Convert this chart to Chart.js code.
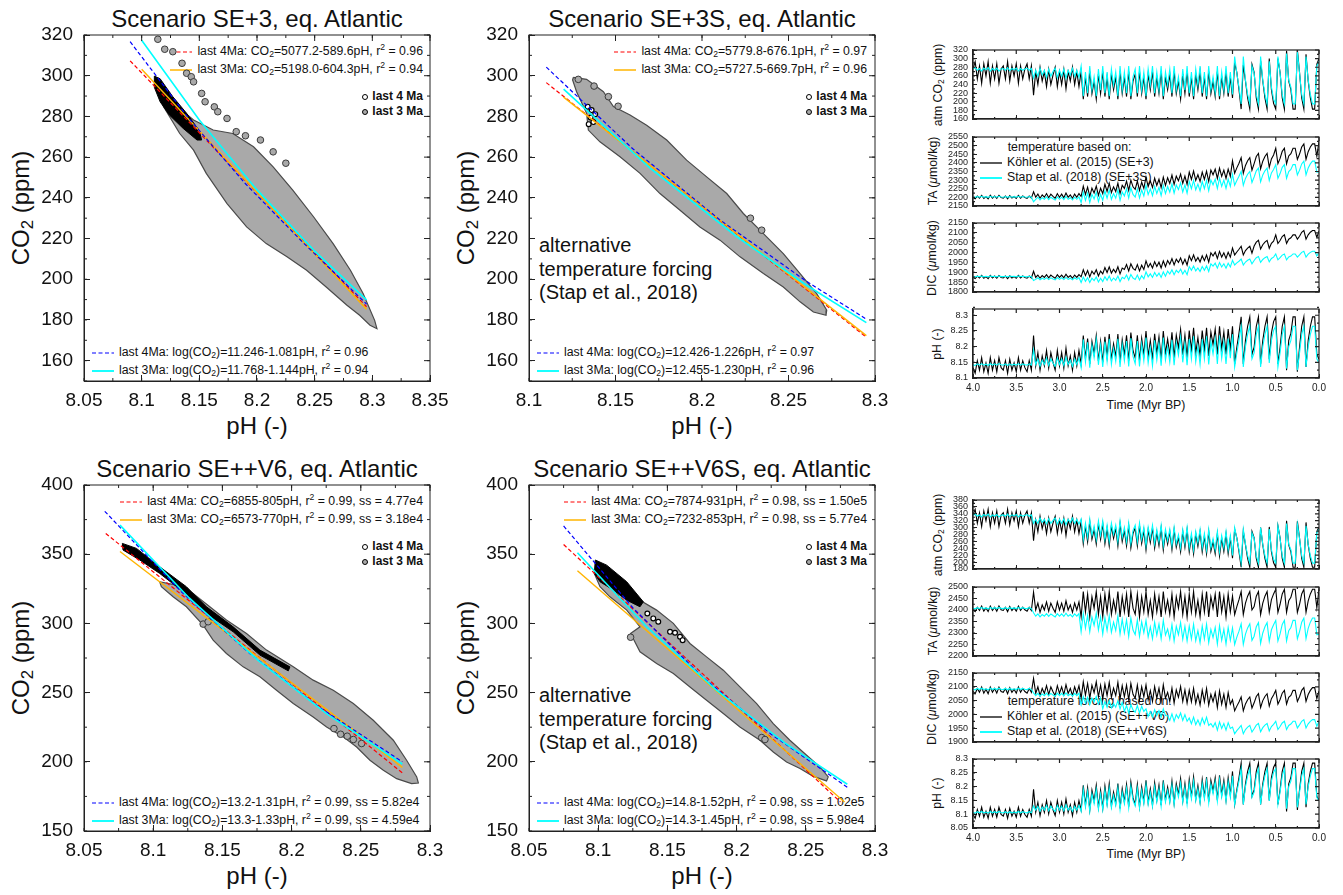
<!DOCTYPE html>
<html>
<head>
<meta charset="utf-8">
<title>CO2 vs pH, eq. Atlantic</title>
<script src="https://cdn.jsdelivr.net/npm/chart.js@4.4.1/dist/chart.umd.min.js"></script>
<style>
  body { margin: 0; background: #fff; }
  #fig { position: relative; width: 1343px; height: 895px; overflow: hidden;
         font-family: "Liberation Sans", Arial, sans-serif; color: #111; }
  #fig canvas { position: absolute; }
  .lbl { position: absolute; white-space: nowrap; }
  .title { font-size: 24px; line-height: 28px; width: 400px; text-align: center; }
  .axt { font-size: 24px; line-height: 28px; width: 300px; text-align: center; }
  .rot { transform: rotate(-90deg); }
  .leg { font-size: 12.3px; line-height: 18px; }
  .legp { font-size: 12px; line-height: 15px; font-weight: bold; }
  .alt { font-size: 20px; line-height: 23.5px; }
  .tleg { font-size: 12.3px; line-height: 15px; }
  .tax { font-size: 12.3px; line-height: 16px; width: 200px; text-align: center; }
  sub { font-size: .7em; vertical-align: -.25em; line-height: 0; }
  sup { font-size: .7em; vertical-align: .55em; line-height: 0; }
  .ls { display: inline-block; width: 22px; height: 6px; margin-right: 5px; vertical-align: middle; }
  .pm { display: inline-block; width: 4px; height: 4px; border: 1.3px solid #000; border-radius: 50%;
        margin-right: 4px; vertical-align: middle; }
</style>
</head>
<body>
<div id="fig">
  <!-- titles -->
  <div class="lbl title" style="left:57px;top:5px">Scenario SE+3, eq. Atlantic</div>
  <div class="lbl title" style="left:502px;top:5px">Scenario SE+3S, eq. Atlantic</div>
  <div class="lbl title" style="left:57px;top:455px">Scenario SE++V6, eq. Atlantic</div>
  <div class="lbl title" style="left:502px;top:455px">Scenario SE++V6S, eq. Atlantic</div>

  <!-- axis titles of the scatter panels -->
  <div class="lbl axt" style="left:107px;top:412px">pH (-)</div>
  <div class="lbl axt" style="left:552px;top:412px">pH (-)</div>
  <div class="lbl axt" style="left:107px;top:862px">pH (-)</div>
  <div class="lbl axt" style="left:552px;top:862px">pH (-)</div>
  <div class="lbl axt rot" style="left:-129px;top:194px">CO<sub>2</sub> (ppm)</div>
  <div class="lbl axt rot" style="left:316px;top:194px">CO<sub>2</sub> (ppm)</div>
  <div class="lbl axt rot" style="left:-129px;top:644px">CO<sub>2</sub> (ppm)</div>
  <div class="lbl axt rot" style="left:316px;top:644px">CO<sub>2</sub> (ppm)</div>

  <!-- SE+3 legends -->
  <div class="lbl leg" style="right:920px;top:42px;text-align:right">
    <div><i class="ls dr"></i>last 4Ma: CO<sub>2</sub>=5077.2-589.6pH, r<sup>2</sup> = 0.96</div>
    <div><i class="ls so"></i>last 3Ma: CO<sub>2</sub>=5198.0-604.3pH, r<sup>2</sup> = 0.94</div>
  </div>
  <div class="lbl legp" style="right:920px;top:89px;text-align:right">
    <div><i class="pm" style="background:#fff"></i>last 4 Ma</div>
    <div><i class="pm" style="background:#a9a9a9"></i>last 3 Ma</div>
  </div>
  <div class="lbl leg" style="left:92px;top:343px">
    <div><i class="ls db"></i>last 4Ma: log(CO<sub>2</sub>)=11.246-1.081pH, r<sup>2</sup> = 0.96</div>
    <div><i class="ls sc"></i>last 3Ma: log(CO<sub>2</sub>)=11.768-1.144pH, r<sup>2</sup> = 0.94</div>
  </div>

  <!-- SE+3S legends -->
  <div class="lbl leg" style="right:476px;top:42px;text-align:right">
    <div><i class="ls dr"></i>last 4Ma: CO<sub>2</sub>=5779.8-676.1pH, r<sup>2</sup> = 0.97</div>
    <div><i class="ls so"></i>last 3Ma: CO<sub>2</sub>=5727.5-669.7pH, r<sup>2</sup> = 0.96</div>
  </div>
  <div class="lbl legp" style="right:476px;top:89px;text-align:right">
    <div><i class="pm" style="background:#fff"></i>last 4 Ma</div>
    <div><i class="pm" style="background:#a9a9a9"></i>last 3 Ma</div>
  </div>
  <div class="lbl leg" style="left:537px;top:343px">
    <div><i class="ls db"></i>last 4Ma: log(CO<sub>2</sub>)=12.426-1.226pH, r<sup>2</sup> = 0.97</div>
    <div><i class="ls sc"></i>last 3Ma: log(CO<sub>2</sub>)=12.455-1.230pH, r<sup>2</sup> = 0.96</div>
  </div>
  <div class="lbl alt" style="left:539px;top:234px">alternative<br>temperature forcing<br>(Stap et al., 2018)</div>

  <!-- SE++V6 legends -->
  <div class="lbl leg" style="right:920px;top:492px;text-align:right">
    <div><i class="ls dr"></i>last 4Ma: CO<sub>2</sub>=6855-805pH, r<sup>2</sup> = 0.99, ss = 4.77e4</div>
    <div><i class="ls so"></i>last 3Ma: CO<sub>2</sub>=6573-770pH, r<sup>2</sup> = 0.99, ss = 3.18e4</div>
  </div>
  <div class="lbl legp" style="right:920px;top:539px;text-align:right">
    <div><i class="pm" style="background:#fff"></i>last 4 Ma</div>
    <div><i class="pm" style="background:#a9a9a9"></i>last 3 Ma</div>
  </div>
  <div class="lbl leg" style="left:92px;top:793px">
    <div><i class="ls db"></i>last 4Ma: log(CO<sub>2</sub>)=13.2-1.31pH, r<sup>2</sup> = 0.99, ss = 5.82e4</div>
    <div><i class="ls sc"></i>last 3Ma: log(CO<sub>2</sub>)=13.3-1.33pH, r<sup>2</sup> = 0.99, ss = 4.59e4</div>
  </div>

  <!-- SE++V6S legends -->
  <div class="lbl leg" style="right:476px;top:492px;text-align:right">
    <div><i class="ls dr"></i>last 4Ma: CO<sub>2</sub>=7874-931pH, r<sup>2</sup> = 0.98, ss = 1.50e5</div>
    <div><i class="ls so"></i>last 3Ma: CO<sub>2</sub>=7232-853pH, r<sup>2</sup> = 0.98, ss = 5.77e4</div>
  </div>
  <div class="lbl legp" style="right:476px;top:539px;text-align:right">
    <div><i class="pm" style="background:#fff"></i>last 4 Ma</div>
    <div><i class="pm" style="background:#a9a9a9"></i>last 3 Ma</div>
  </div>
  <div class="lbl leg" style="left:537px;top:793px">
    <div><i class="ls db"></i>last 4Ma: log(CO<sub>2</sub>)=14.8-1.52pH, r<sup>2</sup> = 0.98, ss = 1.02e5</div>
    <div><i class="ls sc"></i>last 3Ma: log(CO<sub>2</sub>)=14.3-1.45pH, r<sup>2</sup> = 0.98, ss = 5.98e4</div>
  </div>
  <div class="lbl alt" style="left:539px;top:684px">alternative<br>temperature forcing<br>(Stap et al., 2018)</div>

  <!-- time series axis titles -->
  <div class="lbl tax rot" style="left:838px;top:77px">atm CO<sub>2</sub> (ppm)</div>
  <div class="lbl tax rot" style="left:833px;top:163px">TA (<i>μ</i>mol/kg)</div>
  <div class="lbl tax rot" style="left:832px;top:250px">DIC (<i>μ</i>mol/kg)</div>
  <div class="lbl tax rot" style="left:837px;top:336px">pH (-)</div>
  <div class="lbl tax" style="left:1046px;top:397px">Time (Myr BP)</div>
  <div class="lbl tax rot" style="left:838px;top:527px">atm CO<sub>2</sub> (ppm)</div>
  <div class="lbl tax rot" style="left:833px;top:613px">TA (<i>μ</i>mol/kg)</div>
  <div class="lbl tax rot" style="left:832px;top:699px">DIC (<i>μ</i>mol/kg)</div>
  <div class="lbl tax rot" style="left:837px;top:785px">pH (-)</div>
  <div class="lbl tax" style="left:1046px;top:846px">Time (Myr BP)</div>

  <div class="lbl tleg" style="left:980px;top:140px">
    <div style="padding-left:27.7px">temperature based on:</div>
    <div><i class="ls sk"></i>Köhler et al. (2015) (SE+3)</div>
    <div><i class="ls sc"></i>Stap et al. (2018) (SE+3S)</div>
  </div>
  <div class="lbl tleg" style="left:980px;top:694px">
    <div style="padding-left:27.7px">temperature forcing based on:</div>
    <div><i class="ls sk"></i>Köhler et al. (2015) (SE++V6)</div>
    <div><i class="ls sc"></i>Stap et al. (2018) (SE++V6S)</div>
  </div>
</div>

<script>
// ============================================================
// SCATTER PANELS - [pH, CO2] pairs
// ============================================================

// Scenario SE+3
const se3Cloud = [[8.113,298.7],[8.124,288.0],[8.145,278.2],[8.162,273.3],[8.179,271.6],[8.197,265.1],
  [8.214,255.2],[8.231,243.8],[8.249,230.7],[8.266,217.5],[8.281,204.4],[8.292,193.0],[8.302,179.8],
  [8.304,175.7],[8.298,177.4],[8.289,182.3],[8.278,187.2],[8.260,196.2],[8.243,204.4],[8.226,211.0],
  [8.208,217.5],[8.191,225.7],[8.174,237.2],[8.156,252.0],[8.145,263.4],[8.133,271.6],[8.119,284.8],
  [8.111,297.0]];
const se3Scatter = [[8.114,317.9],[8.120,313.0],[8.127,311.8],[8.135,306.1],[8.139,301.2],[8.143,299.5],
  [8.145,297.0],[8.152,291.3],[8.155,287.2],[8.163,284.7],[8.166,282.3],[8.174,279.0],[8.182,272.5],
  [8.190,270.5],[8.203,268.4],[8.214,262.6],[8.225,257.0]];
const se3Early = [[8.111,299.8],[8.116,298.5],[8.127,289.7],[8.139,281.5],[8.150,273.0],[8.152,268.4],
  [8.148,268.4],[8.136,274.1],[8.124,280.7],[8.116,287.2],[8.111,294.3]];
const se3EarlyPts = [];
const se3Lin4 = [[8.09,307.3],[8.295,186.5]];
const se3Lin3 = [[8.10,303.2],[8.295,185.3]];
const se3Log4 = [[8.09,316.7],[8.14,279.6],[8.19,246.9],[8.24,218.0],[8.295,187.8]];
const se3Log3 = [[8.10,317.4],[8.15,278.2],[8.20,243.9],[8.25,213.8],[8.295,189.9]];

// Scenario SE+3S
const se3sCloud = [[8.1256,299.2],[8.1333,298.2],[8.1430,292.1],[8.1488,284.8],[8.1584,280.7],[8.1680,275.7],
  [8.1796,268.4],[8.1911,258.5],[8.2027,250.3],[8.2143,242.1],[8.2239,232.3],[8.2335,224.1],[8.2470,212.6],
  [8.2567,202.8],[8.2663,192.9],[8.2721,184.8],[8.2717,182.3],[8.2644,183.9],[8.2567,188.9],[8.2470,196.2],
  [8.2355,202.8],[8.2220,211.0],[8.2104,219.2],[8.1988,225.7],[8.1873,233.9],[8.1757,242.1],[8.1642,252.0],
  [8.1526,260.2],[8.1410,267.5],[8.1343,273.3],[8.1333,281.5],[8.1275,292.1],[8.1252,297.9]];
const se3sScatter = [[8.1285,298.2],[8.1376,294.9],[8.1459,289.7],[8.1515,285.0],[8.2345,224.1],[8.2280,230.0]];
const se3sEarly = [];
const se3sEarlyPts = [[8.1339,284.8],[8.1362,283.1],[8.1383,281.1],[8.1356,279.5],[8.1372,277.2],[8.1345,276.2]];
const se3sLin4 = [[8.11,296.6],[8.295,171.5]];
const se3sLin3 = [[8.12,289.5],[8.295,172.3]];
const se3sLog4 = [[8.11,304.2],[8.16,264.1],[8.21,229.4],[8.26,199.2],[8.295,180.4]];
const se3sLog3 = [[8.12,293.4],[8.17,254.6],[8.22,221.0],[8.26,197.3],[8.295,178.7]];

// Scenario SE++V6
const sev6Cloud = [[8.1047,330.1],[8.1168,327.7],[8.1288,321.6],[8.1409,312.0],[8.1529,302.4],[8.1674,292.7],
  [8.1819,280.7],[8.2012,268.6],[8.2156,259.0],[8.2301,251.7],[8.2446,242.1],[8.2590,230.0],[8.2735,215.6],
  [8.2831,201.1],[8.2904,189.1],[8.2916,184.7],[8.2867,184.2],[8.2759,187.8],[8.2663,193.9],[8.2566,201.1],
  [8.2470,210.7],[8.2373,218.0],[8.2253,225.2],[8.2156,232.4],[8.2012,242.1],[8.1891,251.7],[8.1771,261.4],
  [8.1650,268.6],[8.1529,278.3],[8.1433,287.9],[8.1361,298.7],[8.1240,312.0],[8.1144,319.2],[8.1059,326.5]];
const sev6Scatter = [[8.1361,299.5],[8.1397,301.2],[8.2306,224.0],[8.2354,219.9],[8.2402,218.5],[8.2446,216.1],
  [8.2506,213.2]];
const sev6Early = [[8.0777,357.8],[8.0879,354.2],[8.1047,340.9],[8.1240,326.5],[8.1385,312.0],[8.1578,297.5],
  [8.1771,280.7],[8.1988,268.6],[8.1976,265.7],[8.1771,277.1],[8.1578,293.9],[8.1385,307.2],[8.1216,322.9],
  [8.1047,336.1],[8.0903,345.8],[8.0782,353.0]];
const sev6EarlyPts = [];
const sev6Lin4 = [[8.0657,365],[8.28,192]];
const sev6Lin3 = [[8.076,352],[8.28,196]];
const sev6Log4 = [[8.065,381],[8.12,323.1],[8.17,278.1],[8.22,239.4],[8.28,200]];
const sev6Log3 = [[8.076,371],[8.126,318.4],[8.176,273.1],[8.226,234.3],[8.28,198.4]];

// Scenario SE++V6S
const sev6sCloud = [[8.0989,342.1],[8.1061,335.6],[8.1181,326.5],[8.1302,316.8],[8.1422,309.6],[8.1543,300.0],
  [8.1663,285.5],[8.1783,275.8],[8.1904,266.2],[8.2024,254.1],[8.2145,242.1],[8.2265,227.6],[8.2385,215.6],
  [8.2506,204.7],[8.2602,196.3],[8.2662,189.1],[8.2650,186.2],[8.2554,189.5],[8.2458,195.1],[8.2361,199.9],
  [8.2265,207.1],[8.2169,215.6],[8.2024,225.2],[8.1904,234.9],[8.1783,244.5],[8.1663,254.1],[8.1543,263.8],
  [8.1422,271.0],[8.1302,279.5],[8.1234,292.7],[8.1302,297.5],[8.1206,309.6],[8.1085,319.2],[8.1013,326.5],
  [8.0972,336.1]];
const sev6sScatter = [[8.2181,217.5],[8.2205,216.1],[8.1234,290.0]];
const sev6sEarly = [[8.0979,345.8],[8.1061,342.1],[8.1206,330.1],[8.1326,315.6],[8.1302,312.0],[8.1206,316.8],
  [8.1109,324.1],[8.1013,330.1],[8.0972,336.1]];
const sev6sEarlyPts = [[8.1355,307.2],[8.1398,303.6],[8.1434,301.2],[8.1519,293.9],[8.1555,293.2],[8.1591,290.3],
  [8.1610,287.9]];
const sev6sLin4 = [[8.075,357],[8.275,171]];
const sev6sLin3 = [[8.085,338],[8.278,171]];
const sev6sLog4 = [[8.075,370.4],[8.125,311.3],[8.175,261.6],[8.225,219.9],[8.28,181.6]];
const sev6sLog3 = [[8.085,351],[8.135,297.6],[8.185,252.1],[8.235,213.5],[8.28,183.8]];

// axis ranges [min, max, step]
const phRangeA = [8.05, 8.35, 0.05];
const phRangeB = [8.1, 8.3, 0.05];
const phRangeC = [8.05, 8.3, 0.05];
const co2RangeTop = [150, 320, 20];
const co2RangeBottom = [150, 400, 50];

// ============================================================
// TIME SERIES - Myr BP, black = Köhler et al. (2015), cyan = Stap et al. (2018)
// ============================================================
const timeMyr = [4.000,3.975,3.950,3.925,3.900,3.875,3.850,3.825,3.800,3.775,
  3.750,3.725,3.700,3.675,3.650,3.625,3.600,3.575,3.550,3.525,
  3.500,3.475,3.450,3.425,3.400,3.375,3.350,3.325,3.300,3.275,
  3.250,3.225,3.200,3.175,3.150,3.125,3.100,3.075,3.050,3.025,
  3.000,2.975,2.950,2.925,2.900,2.875,2.850,2.825,2.800,2.775,
  2.750,2.725,2.700,2.675,2.650,2.625,2.600,2.575,2.550,2.525,
  2.500,2.475,2.450,2.425,2.400,2.375,2.350,2.325,2.300,2.275,
  2.250,2.225,2.200,2.175,2.150,2.125,2.100,2.075,2.050,2.025,
  2.000,1.975,1.950,1.925,1.900,1.875,1.850,1.825,1.800,1.775,
  1.750,1.725,1.700,1.675,1.650,1.625,1.600,1.575,1.550,1.525,
  1.500,1.475,1.450,1.425,1.400,1.375,1.350,1.325,1.300,1.275,
  1.250,1.225,1.200,1.175,1.150,1.125,1.100,1.075,1.050,1.025,
  1.000,0.975,0.950,0.925,0.900,0.875,0.850,0.825,0.800,0.775,
  0.750,0.725,0.700,0.675,0.650,0.625,0.600,0.575,0.550,0.525,
  0.500,0.475,0.450,0.425,0.400,0.375,0.350,0.325,0.300,0.275,
  0.250,0.225,0.200,0.175,0.150,0.125,0.100,0.075,0.050,0.025,
  0.000];

// SE+3 (black) / SE+3S (cyan)
const se3Co2 = [276,293,253,283,243,288,260,293,243,283,253,288,243,276,283,253,293,248,283,260,288,243,283,253,276,288,253,283,
  215,
  270,240,280,248,270,235,275,240,262,280,235,270,240,275,230,270,248,280,240,270,235,
  270,206,257,212,270,219,248,206,264,219, 270,212,257,206,264,228,257,206,270,219,
  257,212,270,206,248,264,212,270,219,257, 206,264,228,270,212,257,219,270,206,257,
  228,264,212,270,219,248,206,264,219,270, 212,257,206,264,228,270,212,257,206,270,
  219,248,212,270,206,257,219,270,212,257,
  209,290,268,228,183,285,248,209,183,287, 268,209,183,295,248,209,183,300,228,196,
  183,300,268,209,183,318,248,228,183,183, 320,268,209,183,310,248,209,183,183,287, 300];
const se3sCo2 = [276,279,273,277,271,278,274,279,271,277,273,278,271,276,277,273,279,272,277,274,278,271,277,273,276,278,273,277,
  255,
  273,259,278,262,273,256,276,259,270,278,256,273,259,276,254,273,262,278,259,273,256,
  283,213,269,220,283,227,258,213,276,227, 283,220,269,213,276,238,269,213,283,227,
  269,220,283,213,258,276,220,283,227,269, 213,276,238,283,220,269,227,283,213,269,
  238,276,220,283,227,258,213,276,227,283, 220,269,213,276,238,283,220,269,213,283,
  227,258,220,283,213,269,227,283,220,269,
  217,305,266,234,195,305,250,217,195,283, 266,217,195,305,250,217,195,294,234,206,
  195,305,266,217,195,312,250,234,195,195, 315,266,217,195,305,250,217,195,195,283, 294];
const se3Ta = [2199,2192,2208,2196,2212,2194,2205,2192,2212,2196,2208,2194,2212,2199,2196,2208,2192,2210,2196,2205,2194,2212,2196,2208,2199,2194,2208,2196,
  2232,
  2201,2219,2195,2214,2201,2222,2198,2219,2206,2195,2222,2201,2219,2198,2225,2201,2214,2195,2219,2201,2222,
  2205,2265,2217,2259,2205,2253,2226,2265,2211,2253, 2222,2276,2234,2282,2228,2261,2234,2282,2222,2270,
  2252,2294,2240,2300,2261,2246,2294,2240,2288,2252, 2317,2263,2296,2257,2311,2269,2305,2257,2317,2269,
  2314,2281,2329,2275,2323,2296,2335,2281,2323,2275, 2346,2304,2352,2298,2331,2292,2346,2304,2352,2292,
  2358,2331,2364,2310,2370,2322,2358,2310,2364,2322,
  2412,2340,2371,2398,2430,2340,2385,2412,2430,2358, 2396,2437,2455,2365,2410,2437,2455,2374,2423,2446,
  2485,2395,2426,2467,2485,2395,2440,2453,2485,2485, 2420,2451,2492,2510,2420,2465,2492,2510,2510,2438, 2525];
const se3sTa = [2202,2200,2205,2201,2206,2201,2204,2200,2206,2201,2205,2201,2206,2202,2201,2205,2200,2205,2201,2204,2201,2206,2201,2205,2202,2201,2205,2201,
  2175,
  2189,2201,2185,2198,2189,2203,2187,2201,2192,2185,2203,2189,2201,2187,2205,2189,2198,2185,2201,2189,2203,
  2170,2230,2182,2224,2170,2218,2191,2230,2176,2218, 2183,2237,2195,2243,2189,2222,2195,2243,2183,2231,
  2208,2250,2196,2256,2217,2202,2250,2196,2244,2208, 2270,2216,2249,2210,2264,2222,2258,2210,2270,2222,
  2263,2230,2278,2224,2272,2245,2284,2230,2272,2224, 2292,2250,2298,2244,2277,2238,2292,2250,2298,2238,
  2300,2273,2306,2252,2312,2264,2300,2252,2306,2264,
  2334,2270,2298,2322,2350,2270,2310,2334,2350,2286, 2318,2354,2370,2290,2330,2354,2370,2298,2342,2362,
  2390,2310,2338,2374,2390,2310,2350,2362,2390,2390, 2330,2358,2394,2410,2330,2370,2394,2410,2410,2346, 2348];
const se3Dic = [1874,1868,1881,1871,1884,1870,1878,1868,1884,1871,1881,1870,1884,1874,1871,1881,1868,1882,1871,1878,1870,1884,1871,1881,1874,1870,1881,1871,
  1905,
  1874,1886,1870,1883,1874,1888,1872,1886,1877,1870,1888,1874,1886,1872,1890,1874,1883,1870,1886,1874,1888,
  1877,1913,1884,1909,1877,1906,1890,1913,1881,1906, 1892,1924,1899,1928,1896,1915,1899,1928,1892,1921,
  1914,1939,1907,1943,1920,1911,1939,1907,1936,1914, 1958,1926,1945,1922,1954,1929,1951,1922,1958,1929,
  1960,1941,1969,1937,1966,1950,1973,1941,1966,1937, 1984,1959,1988,1956,1975,1952,1984,1959,1988,1952,
  1999,1983,2002,1970,2006,1977,1999,1970,2002,1977,
  2023,1988,2003,2017,2032,1988,2010,2023,2032,1997, 2033,2053,2062,2018,2040,2053,2062,2022,2047,2058,
  2090,2046,2061,2081,2090,2046,2068,2075,2090,2090, 2068,2083,2103,2112,2068,2090,2103,2112,2112,2077, 2110];
const se3sDic = [1878,1877,1880,1878,1881,1877,1880,1877,1881,1878,1880,1877,1881,1878,1878,1880,1877,1881,1878,1880,1877,1881,1878,1880,1878,1877,1880,1878,
  1858,
  1864,1872,1862,1870,1864,1873,1863,1872,1866,1862,1873,1864,1872,1863,1874,1864,1870,1862,1872,1864,1873,
  1848,1876,1854,1873,1848,1870,1858,1876,1851,1870, 1853,1878,1859,1881,1856,1871,1859,1881,1853,1875,
  1867,1886,1861,1889,1871,1864,1886,1861,1883,1867, 1902,1877,1892,1874,1899,1880,1896,1874,1902,1880,
  1906,1891,1913,1888,1910,1898,1916,1891,1910,1888, 1929,1910,1932,1907,1922,1904,1929,1910,1932,1904,
  1943,1931,1946,1921,1949,1927,1943,1921,1946,1927,
  1961,1937,1948,1956,1967,1937,1952,1961,1967,1943, 1960,1974,1980,1950,1965,1974,1980,1953,1970,1977,
  1993,1963,1974,1987,1993,1963,1978,1982,1993,1993, 1977,1988,2001,2007,1977,1992,2001,2007,2007,1983, 2000];
const se3Ph = [8.133,8.115,8.155,8.125,8.165,8.12,8.148,8.115,8.165,8.125,8.155,8.12,8.165,8.133,8.125,8.155,8.115,8.16,8.125,8.148,8.12,8.165,8.125,8.155,8.133,8.12,8.155,8.125,
  8.235,
  8.139,8.181,8.125,8.17,8.139,8.188,8.132,8.181,8.15,8.125,8.188,8.139,8.181,8.132,8.195,8.139,8.17,8.125,8.181,8.139,8.188,
  8.145,8.235,8.163,8.226,8.145,8.217,8.177,8.235,8.154,8.217, 8.15,8.231,8.168,8.24,8.159,8.209,8.168,8.24,8.15,8.222,
  8.173,8.236,8.155,8.245,8.187,8.164,8.236,8.155,8.227,8.173, 8.25,8.169,8.219,8.16,8.241,8.178,8.232,8.16,8.25,8.178,
  8.224,8.174,8.246,8.165,8.237,8.197,8.255,8.174,8.237,8.165, 8.251,8.188,8.26,8.179,8.229,8.17,8.251,8.188,8.26,8.17,
  8.247,8.207,8.256,8.175,8.265,8.193,8.247,8.175,8.256,8.193,
  8.265,8.145,8.198,8.243,8.295,8.145,8.22,8.265,8.295,8.175, 8.198,8.265,8.295,8.145,8.22,8.265,8.295,8.16,8.243,8.28,
  8.295,8.145,8.198,8.265,8.295,8.125,8.22,8.243,8.295,8.295, 8.12,8.198,8.265,8.295,8.135,8.22,8.265,8.295,8.295,8.175, 8.16];
const se3sPh = [8.142,8.14,8.145,8.141,8.146,8.141,8.144,8.14,8.146,8.141,8.145,8.141,8.146,8.142,8.141,8.145,8.14,8.145,8.141,8.144,8.141,8.146,8.141,8.145,8.142,8.141,8.145,8.141,
  8.19,
  8.143,8.161,8.137,8.157,8.143,8.164,8.14,8.161,8.148,8.137,8.164,8.143,8.161,8.14,8.167,8.143,8.157,8.137,8.161,8.143,8.164,
  8.133,8.223,8.151,8.214,8.133,8.205,8.165,8.223,8.142,8.205, 8.135,8.216,8.153,8.225,8.144,8.194,8.153,8.225,8.135,8.207,
  8.155,8.218,8.137,8.227,8.169,8.146,8.218,8.137,8.209,8.155, 8.229,8.148,8.198,8.139,8.22,8.157,8.211,8.139,8.229,8.157,
  8.2,8.15,8.222,8.141,8.213,8.173,8.231,8.15,8.213,8.141, 8.224,8.161,8.233,8.152,8.202,8.143,8.224,8.161,8.233,8.143,
  8.217,8.177,8.226,8.145,8.235,8.163,8.217,8.145,8.226,8.163,
  8.239,8.135,8.18,8.22,8.265,8.135,8.2,8.239,8.265,8.161, 8.18,8.239,8.265,8.135,8.2,8.239,8.265,8.148,8.22,8.252,
  8.265,8.135,8.18,8.239,8.265,8.13,8.2,8.22,8.265,8.265, 8.125,8.18,8.239,8.265,8.135,8.2,8.239,8.265,8.265,8.161, 8.148];

// SE++V6 (black) / SE++V6S (cyan)
const sev6Co2 = [336,353,313,343,303,348,320,353,303,343,313,348,303,336,343,313,353,308,343,320,348,303,343,313,336,348,313,343,
  262,
  322,288,333,297,322,283,327,288,313,333,283,322,288,327,277,322,297,333,288,322,283,
  317,253,304,259,317,266,295,253,311,266, 311,253,298,247,305,269,298,247,311,260,
  292,247,305,241,283,299,247,305,254,292, 235,293,257,299,241,286,248,299,235,286,
  252,288,236,294,243,272,230,288,243,294, 230,275,224,282,246,288,230,275,224,288,
  231,260,224,282,218,269,231,282,224,269,
  211,295,270,230,185,290,250,211,185,289, 270,211,185,300,250,211,185,302,230,198,
  185,305,270,211,185,320,250,230,185,185, 318,270,211,185,315,250,211,185,185,289, 302];
const sev6sCo2 = [336,339,333,337,331,338,334,339,331,337,333,338,331,336,337,333,339,332,337,334,338,331,337,333,336,338,333,337,
  312,
  324,312,328,315,324,310,326,312,321,328,310,324,312,326,308,324,315,328,312,324,310,
  325,265,313,271,325,277,304,265,319,277, 319,265,307,259,313,280,307,259,319,271,
  301,259,313,253,292,307,259,313,265,301, 247,301,268,307,253,295,259,307,247,295,
  262,295,247,301,253,280,241,295,253,301, 241,283,235,289,256,295,241,283,235,295,
  241,268,235,289,229,277,241,289,235,277,
  219,300,268,236,197,295,252,219,197,285, 268,219,197,300,252,219,197,296,236,208,
  197,305,268,219,197,312,252,236,197,197, 310,268,219,197,305,252,219,197,197,285, 296];
const sev6Ta = [2401,2393,2412,2398,2417,2395,2409,2393,2417,2398,2412,2395,2417,2401,2398,2412,2393,2415,2398,2409,2395,2417,2398,2412,2401,2395,2412,2398,
  2478,
  2400,2430,2390,2422,2400,2435,2395,2430,2408,2390,2435,2400,2430,2395,2440,2400,2422,2390,2430,2400,2435,
  2370,2480,2392,2469,2370,2458,2408,2480,2381,2458, 2370,2469,2392,2480,2381,2442,2392,2480,2370,2458,
  2392,2469,2370,2480,2408,2381,2469,2370,2458,2392, 2480,2381,2442,2370,2469,2392,2458,2370,2480,2392,
  2442,2381,2469,2370,2458,2408,2480,2381,2458,2370, 2469,2392,2480,2381,2442,2370,2469,2392,2480,2370,
  2458,2408,2469,2370,2480,2392,2458,2370,2469,2392,
  2460,2380,2415,2445,2480,2380,2430,2460,2480,2400, 2415,2460,2480,2380,2430,2460,2480,2390,2445,2470,
  2490,2390,2425,2470,2490,2390,2440,2455,2490,2490, 2390,2425,2470,2490,2390,2440,2470,2490,2490,2410, 2490];
const sev6sTa = [2407,2405,2410,2406,2411,2406,2409,2405,2411,2406,2410,2406,2411,2407,2406,2410,2405,2410,2406,2409,2406,2411,2406,2410,2407,2406,2410,2406,
  2388,
  2373,2383,2370,2380,2373,2384,2372,2383,2376,2370,2384,2373,2383,2372,2386,2373,2380,2370,2383,2373,2384,
  2305,2385,2321,2377,2305,2369,2333,2385,2313,2369, 2295,2367,2311,2375,2303,2347,2311,2375,2295,2359,
  2301,2357,2285,2365,2313,2293,2357,2285,2349,2301, 2355,2283,2327,2275,2347,2291,2339,2275,2355,2291,
  2317,2273,2337,2265,2329,2293,2345,2273,2329,2265, 2330,2274,2338,2266,2310,2258,2330,2274,2338,2258,
  2316,2280,2324,2252,2332,2268,2316,2252,2324,2268,
  2322,2250,2282,2308,2340,2250,2295,2322,2340,2268, 2286,2327,2345,2255,2300,2327,2345,2264,2314,2336,
  2355,2265,2296,2337,2355,2265,2310,2324,2355,2355, 2275,2306,2347,2365,2275,2320,2347,2365,2365,2293, 2294];
const sev6Dic = [2083,2075,2094,2080,2099,2077,2091,2075,2099,2080,2094,2077,2099,2083,2080,2094,2075,2097,2080,2091,2077,2099,2080,2094,2083,2077,2094,2080,
  2130,
  2076,2100,2068,2094,2076,2104,2072,2100,2082,2068,2104,2076,2100,2072,2108,2076,2094,2068,2100,2076,2104,
  2058,2118,2070,2112,2058,2106,2079,2118,2064,2106, 2056,2110,2068,2116,2062,2095,2068,2116,2056,2104,
  2064,2106,2052,2112,2073,2058,2106,2052,2100,2064, 2107,2053,2086,2047,2101,2059,2095,2047,2107,2059,
  2080,2047,2095,2041,2089,2062,2101,2047,2089,2041, 2088,2046,2094,2040,2073,2034,2088,2046,2094,2034,
  2073,2046,2079,2025,2085,2037,2073,2025,2079,2037,
  2053,2013,2030,2045,2063,2013,2038,2053,2063,2023, 2042,2065,2075,2025,2050,2065,2075,2030,2057,2070,
  2087,2037,2054,2077,2087,2037,2062,2069,2087,2087, 2047,2064,2087,2097,2047,2072,2087,2097,2097,2057, 2085];
const sev6sDic = [2091,2089,2094,2090,2095,2090,2093,2089,2095,2090,2094,2090,2095,2091,2090,2094,2089,2094,2090,2093,2090,2095,2090,2094,2091,2090,2094,2090,
  2078,
  2068,2076,2066,2074,2068,2077,2067,2076,2070,2066,2077,2068,2076,2067,2078,2068,2074,2066,2076,2068,2077,
  2035,2065,2041,2062,2035,2059,2046,2065,2038,2059, 2020,2047,2026,2050,2023,2040,2026,2050,2020,2044,
  2011,2032,2005,2035,2016,2008,2032,2005,2029,2011, 2020,1993,2010,1990,2017,1996,2014,1990,2020,1996,
  1995,1978,2002,1975,1999,1986,2005,1978,1999,1975, 1987,1966,1990,1963,1980,1960,1987,1966,1990,1960,
  1967,1954,1970,1943,1973,1949,1967,1943,1970,1949,
  1954,1930,1941,1950,1960,1930,1945,1954,1960,1936, 1948,1961,1967,1937,1952,1961,1967,1940,1956,1964,
  1975,1945,1956,1969,1975,1945,1960,1965,1975,1975, 1951,1962,1975,1981,1951,1966,1975,1981,1981,1957, 1975];
const sev6Ph = [8.099,8.085,8.117,8.093,8.125,8.089,8.111,8.085,8.125,8.093,8.117,8.089,8.125,8.099,8.093,8.117,8.085,8.121,8.093,8.111,8.089,8.125,8.093,8.117,8.099,8.089,8.117,8.093,
  8.19,
  8.107,8.143,8.095,8.134,8.107,8.149,8.101,8.143,8.116,8.095,8.149,8.107,8.143,8.101,8.155,8.107,8.134,8.095,8.143,8.107,8.149,
  8.115,8.205,8.133,8.196,8.115,8.187,8.147,8.205,8.124,8.187, 8.121,8.202,8.139,8.211,8.13,8.18,8.139,8.211,8.121,8.193,
  8.145,8.208,8.127,8.217,8.159,8.136,8.208,8.127,8.199,8.145, 8.223,8.142,8.192,8.133,8.214,8.151,8.205,8.133,8.223,8.151,
  8.198,8.148,8.22,8.139,8.211,8.171,8.229,8.148,8.211,8.139, 8.226,8.163,8.235,8.154,8.204,8.145,8.226,8.163,8.235,8.145,
  8.223,8.183,8.232,8.151,8.241,8.169,8.223,8.151,8.232,8.169,
  8.255,8.135,8.188,8.233,8.285,8.135,8.21,8.255,8.285,8.165, 8.188,8.255,8.285,8.135,8.21,8.255,8.285,8.15,8.233,8.27,
  8.285,8.135,8.188,8.255,8.285,8.11,8.21,8.233,8.285,8.285, 8.115,8.188,8.255,8.285,8.125,8.21,8.255,8.285,8.285,8.165, 8.15];
const sev6sPh = [8.106,8.104,8.109,8.105,8.11,8.105,8.108,8.104,8.11,8.105,8.109,8.105,8.11,8.106,8.105,8.109,8.104,8.109,8.105,8.108,8.105,8.11,8.105,8.109,8.106,8.105,8.109,8.105,
  8.13,
  8.115,8.129,8.11,8.126,8.115,8.132,8.112,8.129,8.118,8.11,8.132,8.115,8.129,8.112,8.134,8.115,8.126,8.11,8.129,8.115,8.132,
  8.11,8.19,8.126,8.182,8.11,8.174,8.138,8.19,8.118,8.174, 8.116,8.188,8.132,8.196,8.124,8.168,8.132,8.196,8.116,8.18,
  8.138,8.194,8.122,8.202,8.15,8.13,8.194,8.122,8.186,8.138, 8.208,8.136,8.18,8.128,8.2,8.144,8.192,8.128,8.208,8.144,
  8.186,8.142,8.206,8.134,8.198,8.162,8.214,8.142,8.198,8.134, 8.212,8.156,8.22,8.148,8.192,8.14,8.212,8.156,8.22,8.14,
  8.21,8.174,8.218,8.146,8.226,8.162,8.21,8.146,8.218,8.162,
  8.239,8.135,8.18,8.22,8.265,8.135,8.2,8.239,8.265,8.161, 8.18,8.239,8.265,8.135,8.2,8.239,8.265,8.148,8.22,8.252,
  8.265,8.135,8.18,8.239,8.265,8.12,8.2,8.22,8.265,8.265, 8.125,8.18,8.239,8.265,8.135,8.2,8.239,8.265,8.265,8.161, 8.148];

// time panel y ranges [min, max, step]
const se3Ranges = [[160, 320, 20], [2150, 2550, 50], [1800, 2150, 50], [8.1, 8.32, 0.05]];
const sev6Ranges = [[180, 380, 20], [2200, 2500, 50], [1900, 2150, 50], [8.05, 8.3, 0.05]];

// ============================================================
// HELPERS
// ============================================================
Chart.defaults.font.family = '"Liberation Sans", Arial, sans-serif';
Chart.defaults.color = '#111';

const GRAY = '#a9a9a9';
const ORANGE = '#ffb400';

// box + inward ticks on all four sides (minor ticks included)
const framePlugin = {
  id: 'frame',
  afterDatasetsDraw(chart, args, o) {
    const ctx = chart.ctx, a = chart.chartArea;
    const sx = chart.scales.x, sy = chart.scales.y;
    ctx.save();
    ctx.strokeStyle = o.color;
    ctx.lineWidth = o.width;
    ctx.beginPath();
    const seg = (x1, y1, x2, y2) => { ctx.moveTo(x1, y1); ctx.lineTo(x2, y2); };
    sx.ticks.forEach(t => { const p = sx.getPixelForValue(t.value); seg(p, a.top, p, a.top + o.major); });
    sy.ticks.forEach(t => { const p = sy.getPixelForValue(t.value); seg(a.right, p, a.right - o.major, p); });
    const nx = Math.round((sx.max - sx.min) / o.xMinor);
    for (let k = 0; k <= nx; k++) {
      const p = sx.getPixelForValue(sx.min + k * o.xMinor);
      seg(p, a.bottom, p, a.bottom - o.minor);
      seg(p, a.top, p, a.top + o.minor);
    }
    const ny = Math.round((sy.max - sy.min) / o.yMinor);
    for (let k = 0; k <= ny; k++) {
      const p = sy.getPixelForValue(sy.min + k * o.yMinor);
      seg(a.left, p, a.left + o.minor, p);
      seg(a.right, p, a.right - o.minor, p);
    }
    ctx.stroke();
    ctx.strokeRect(a.left, a.top, a.right - a.left, a.bottom - a.top);
    ctx.restore();
  }
};

function addCanvas(box) {
  const c = document.createElement('canvas');
  c.width = box.w;
  c.height = box.h;
  c.style.left = box.l + 'px';
  c.style.top = box.t + 'px';
  c.style.width = box.w + 'px';
  c.style.height = box.h + 'px';
  document.getElementById('fig').appendChild(c);
  return c;
}

function axis(r, opts) {
  return {
    type: 'linear', min: r[0], max: r[1], reverse: !!opts.reverse,
    border: { display: true, color: '#222', width: opts.bw },
    grid: { drawOnChartArea: false, drawTicks: true, tickLength: opts.tl, color: '#222' },
    ticks: {
      display: opts.show, stepSize: r[2], padding: opts.pad, font: { size: opts.size }, color: opts.color,
      autoSkip: false, maxRotation: 0, includeBounds: false,
      callback: opts.fmt || (v => String(+v.toFixed(3)))
    },
    afterFit: opts.fit
  };
}

const pts = arr => arr.map(p => ({ x: p[0], y: p[1] }));
const ring = arr => pts(arr.concat([arr[0]]));
const series = ys => timeMyr.map((t, i) => ({ x: t, y: ys[i] }));

function fitLine(arr, color, dashed, width) {
  return { data: pts(arr), showLine: true, pointRadius: 0, borderColor: color, borderWidth: width,
           borderDash: dashed ? [4, 2.5] : [], fill: false };
}

function scatterSets(cloud, scatter, early, earlyPts, lin4, lin3, log4, log3) {
  // first dataset is drawn on top
  return [
    fitLine(log3, '#00ffff', false, 1.6),
    fitLine(log4, '#0000ff', true, 1.2),
    fitLine(lin3, ORANGE, false, 1.4),
    fitLine(lin4, '#ff0000', true, 1.2),
    { data: pts(earlyPts), pointRadius: 2.4, pointBackgroundColor: '#fff', pointBorderColor: '#000', pointBorderWidth: 1.2 },
    { data: early.length ? ring(early) : [], showLine: true, fill: 'shape', backgroundColor: '#000',
      borderColor: '#000', borderWidth: 1, pointRadius: 0 },
    { data: pts(scatter), pointRadius: 3.3, pointBackgroundColor: GRAY, pointBorderColor: '#3a3a3a', pointBorderWidth: 1 },
    { data: ring(cloud), showLine: true, fill: 'shape', backgroundColor: GRAY, borderColor: '#4a4a4a',
      borderWidth: 1.2, pointRadius: 0 }
  ];
}

// canvas is larger than the plot so that Chart.js' label paddings never move the plot area
function scatterPanel(plot, xr, yr, sets) {
  const box = { l: plot.l - 84, t: plot.t - 32, w: plot.r + 36 - (plot.l - 84), h: plot.b + 34 - (plot.t - 32) };
  const c = addCanvas(box);
  return new Chart(c, {
    type: 'scatter',
    data: { datasets: sets },
    options: {
      responsive: false, animation: false, events: [],
      layout: { padding: { top: plot.t - box.t, right: box.l + box.w - plot.r, left: 0, bottom: 0 } },
      plugins: {
        legend: { display: false }, tooltip: { enabled: false },
        frame: { major: 6, minor: 3, xMinor: xr[2] / 2, yMinor: yr[2] / 2, color: '#222', width: 1 }
      },
      scales: {
        x: axis(xr, { show: true, size: 19, pad: 14, tl: -6, bw: 1, color: '#111',
                      fit: s => { s.height = box.t + box.h - plot.b; } }),
        y: axis(yr, { show: true, size: 19, pad: 17, tl: -6, bw: 1, color: '#111',
                      fit: s => { s.width = plot.l - box.l; } })
      }
    },
    plugins: [framePlugin]
  });
}

function timePanel(plot, yr, black, cyan, showX) {
  const box = { l: 900, t: plot.t - 16, w: 443, h: plot.b - plot.t + 16 + (showX ? 22 : 16) };
  const c = addCanvas(box);
  return new Chart(c, {
    type: 'scatter',
    data: {
      datasets: [
        { data: series(cyan), showLine: true, pointRadius: 0, borderColor: '#00ffff', borderWidth: 1.1 },
        { data: series(black), showLine: true, pointRadius: 0, borderColor: '#000000', borderWidth: 1.1 }
      ]
    },
    options: {
      responsive: false, animation: false, events: [],
      layout: { padding: { top: plot.t - box.t, right: box.l + box.w - 1319, left: 0, bottom: 0 } },
      plugins: {
        legend: { display: false }, tooltip: { enabled: false },
        frame: { major: 4, minor: 2, xMinor: 0.25, yMinor: yr[2] / 2, color: '#222', width: 1.2 }
      },
      scales: {
        x: axis([0, 4, 0.5], { show: showX, size: 10, pad: 8, tl: -4, bw: 1.2, color: '#222', reverse: true,
                               fmt: v => v.toFixed(1), fit: s => { s.height = box.t + box.h - plot.b; } }),
        y: axis(yr, { show: true, size: 9, pad: 9, tl: -4, bw: 1.2, color: '#222',
                      fit: s => { s.width = 973 - box.l; } })
      }
    },
    plugins: [framePlugin]
  });
}

// legend line samples
const sampleStyles = { dr: ['#ff0000', 1.2, '4 2.5'], db: ['#0000ff', 1.2, '4 2.5'], so: [ORANGE, 1.5, ''],
                       sc: ['#00ffff', 1.8, ''], sk: ['#000000', 1.3, ''] };
document.querySelectorAll('i.ls').forEach(el => {
  const key = Object.keys(sampleStyles).find(k => el.classList.contains(k));
  const [c, w, d] = sampleStyles[key];
  el.innerHTML = '<svg width="22" height="6" style="display:block"><line x1="0" y1="3" x2="22" y2="3" stroke="' + c +
    '" stroke-width="' + w + '"' + (d ? ' stroke-dasharray="' + d + '"' : '') + '/></svg>';
});

// ============================================================
// DRAW
// ============================================================
scatterPanel({ l: 84, t: 35, r: 430, b: 381 }, phRangeA, co2RangeTop,
  scatterSets(se3Cloud, se3Scatter, se3Early, se3EarlyPts, se3Lin4, se3Lin3, se3Log4, se3Log3));
scatterPanel({ l: 529, t: 35, r: 875, b: 381 }, phRangeB, co2RangeTop,
  scatterSets(se3sCloud, se3sScatter, se3sEarly, se3sEarlyPts, se3sLin4, se3sLin3, se3sLog4, se3sLog3));
scatterPanel({ l: 84, t: 485, r: 430, b: 831 }, phRangeC, co2RangeBottom,
  scatterSets(sev6Cloud, sev6Scatter, sev6Early, sev6EarlyPts, sev6Lin4, sev6Lin3, sev6Log4, sev6Log3));
scatterPanel({ l: 529, t: 485, r: 875, b: 831 }, phRangeC, co2RangeBottom,
  scatterSets(sev6sCloud, sev6sScatter, sev6sEarly, sev6sEarlyPts, sev6sLin4, sev6sLin3, sev6sLog4, sev6sLog3));

timePanel({ t: 50, b: 119 }, se3Ranges[0], se3Co2, se3sCo2, false);
timePanel({ t: 137, b: 206 }, se3Ranges[1], se3Ta, se3sTa, false);
timePanel({ t: 223, b: 292 }, se3Ranges[2], se3Dic, se3sDic, false);
timePanel({ t: 309, b: 378 }, se3Ranges[3], se3Ph, se3sPh, true);

timePanel({ t: 500, b: 569 }, sev6Ranges[0], sev6Co2, sev6sCo2, false);
timePanel({ t: 587, b: 656 }, sev6Ranges[1], sev6Ta, sev6sTa, false);
timePanel({ t: 673, b: 742 }, sev6Ranges[2], sev6Dic, sev6sDic, false);
timePanel({ t: 759, b: 828 }, sev6Ranges[3], sev6Ph, sev6sPh, true);
</script>
</body>
</html>
